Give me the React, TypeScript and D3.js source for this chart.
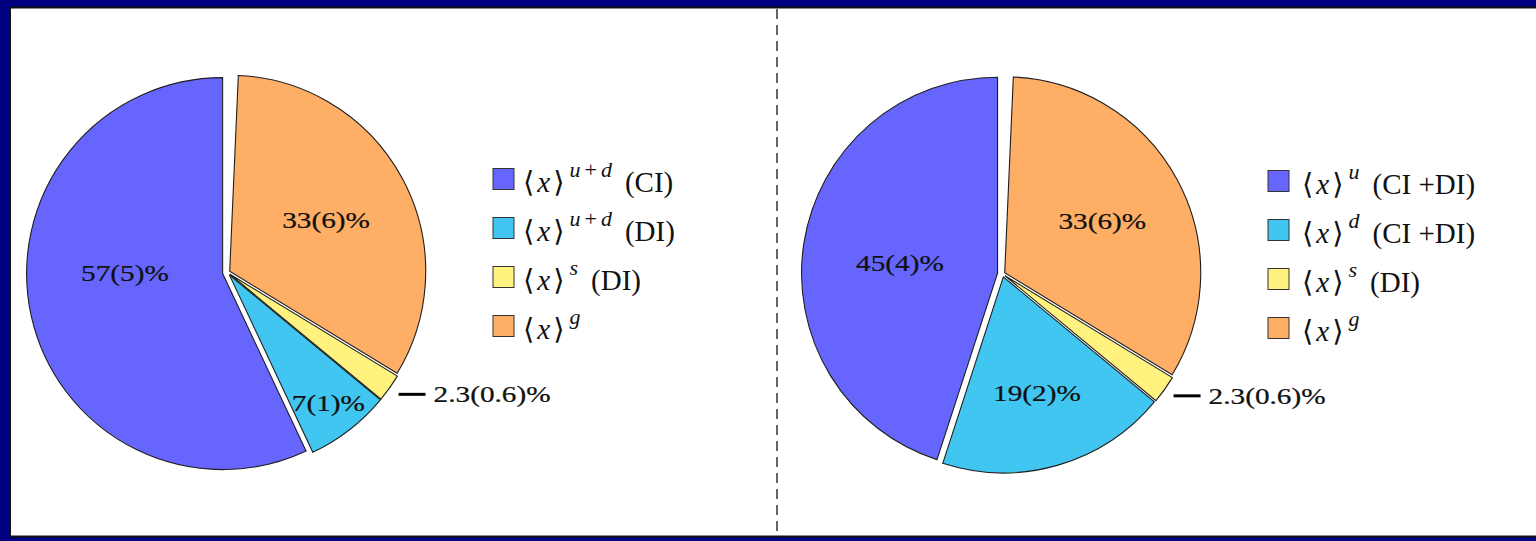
import React from "react";
import * as d3 from "d3";

// Momentum-fraction decomposition, two pies: left (CI / DI split), right (flavour split)
const legendColors = ["#6666FF", "#40C6F0", "#FFF27F", "#FFAE66"];

const leftSup = ["u+d", "u+d", "s", "g"];
const leftTail = ["(CI)", "(DI)", "(DI)", ""];
const leftValues = [57, 7, 2.3, 33];
const leftErrors = ["5", "1", "0.6", "6"];

const rightSup = ["u", "d", "s", "g"];
const rightTail = ["(CI +DI)", "(CI +DI)", "(DI)", ""];
const rightValues = [45, 19, 2.3, 33];
const rightErrors = ["4", "2", "0.6", "6"];

// clockwise from 12 o'clock: gluon, strange, second quark piece, first quark piece
const sliceOrder = [3, 2, 1, 0];

const W = 1536;
const H = 541;
const R = 196;
const FONT = "'Liberation Serif', 'DejaVu Serif', 'DejaVu Sans', serif";
const explode = [5, 3, 3, 2.5];

type LabelLayout = { rf: number; da: number } | null;

interface PieSpec {
  cx: number;
  cy: number;
  values: number[];
  errors: string[];
  sup: string[];
  tail: string[];
  labels: LabelLayout[];
  legendX: number;
  legendY: number;
  textGap: number;
}

const pies: PieSpec[] = [
  {
    cx: 227.5,
    cy: 272.5,
    values: leftValues,
    errors: leftErrors,
    sup: leftSup,
    tail: leftTail,
    labels: [{ rf: 0.523, da: 12.3 }, { rf: 0.84, da: 0 }, null, { rf: 0.57, da: 0 }],
    legendX: 493,
    legendY: 179,
    textGap: 30,
  },
  {
    cx: 1002.5,
    cy: 274,
    values: rightValues,
    errors: rightErrors,
    sup: rightSup,
    tail: rightTail,
    labels: [{ rf: 0.526, da: -3 }, { rf: 0.63, da: 0 }, null, { rf: 0.577, da: 0 }],
    legendX: 1268,
    legendY: 181,
    textGap: 34,
  },
];

const arc = d3.arc<d3.PieArcDatum<number>>().innerRadius(0).outerRadius(R);

function Pie({ spec }: { spec: PieSpec }) {
  const total = d3.sum(spec.values);
  const pie = d3
    .pie<number>()
    .sort(null)
    .value((i) => spec.values[i])
    .startAngle((2 * Math.PI * (100 - total)) / 100)
    .endAngle(2 * Math.PI);
  const arcs = pie(sliceOrder);
  const dir = (a: number) => [Math.sin(a), -Math.cos(a)];

  return (
    <g>
      {arcs.map((a) => {
        const i = a.data;
        const mid = (a.startAngle + a.endAngle) / 2;
        const [ux, uy] = dir(mid);
        const e = explode[i];
        return (
          <path
            key={i}
            d={arc(a) || ""}
            transform={`translate(${spec.cx + ux * e},${spec.cy + uy * e})`}
            fill={legendColors[i]}
            stroke="#1e1e1e"
            strokeWidth={1.1}
            strokeLinejoin="miter"
          />
        );
      })}
      {arcs.map((a) => {
        const i = a.data;
        const text = `${spec.values[i]}(${spec.errors[i]})%`;
        const mid = (a.startAngle + a.endAngle) / 2;
        const lay = spec.labels[i];
        if (lay) {
          const ang = mid + (lay.da * Math.PI) / 180;
          const [ux, uy] = dir(ang);
          const x = spec.cx + ux * lay.rf * R;
          const y = spec.cy + uy * lay.rf * R;
          return (
            <text
              key={"l" + i}
              transform={`translate(${x},${y}) scale(1.22,1)`}
              y={8}
              textAnchor="middle"
              fontFamily={FONT}
              fontSize={24}
              fill="#111"
              stroke="#111"
              strokeWidth={0.25}
            >
              {text}
            </text>
          );
        }
        const [ux, uy] = dir(mid);
        const x0 = spec.cx + ux * 210;
        const y0 = spec.cy + uy * 210;
        return (
          <g key={"l" + i}>
            <line x1={x0} x2={x0 + 27} y1={y0} y2={y0} stroke="#000" strokeWidth={3} />
            <text
              transform={`translate(${x0 + 35},${y0}) scale(1.22,1)`}
              y={8}
              fontFamily={FONT}
              fontSize={24}
              fill="#111"
              stroke="#111"
              strokeWidth={0.25}
            >
              {text}
            </text>
          </g>
        );
      })}
      {spec.sup.map((s, i) => {
        const cy = spec.legendY + i * 49;
        const parts = s.split("+");
        return (
          <g key={"k" + i}>
            <rect
              x={spec.legendX}
              y={cy - 10.5}
              width={21}
              height={21}
              fill={legendColors[i]}
              stroke="#333"
              strokeWidth={1}
            />
            <text x={spec.legendX + spec.textGap} y={cy + 13} fontFamily={FONT} fontSize={29} fill="#111">
              <tspan>⟨</tspan>
              <tspan fontStyle="italic" dx={3}>x</tspan>
              <tspan dx={3}>⟩</tspan>
              <tspan fontSize={22} dx={5} dy={-15} fontStyle="italic">{parts[0]}</tspan>
              {parts.length > 1 && (
                <>
                  <tspan fontSize={22} dx={4}>+</tspan>
                  <tspan fontSize={22} dx={4} fontStyle="italic">{parts[1]}</tspan>
                </>
              )}
              <tspan dx={spec.tail[i] ? 13 : 0} dy={15}>{spec.tail[i]}</tspan>
            </text>
          </g>
        );
      })}
    </g>
  );
}

export default function App() {
  return (
    <svg
      width={W}
      height={H}
      viewBox={`0 0 ${W} ${H}`}
      style={{ position: "absolute", left: 0, top: 0, display: "block" }}
    >
      <rect x={0} y={0} width={W} height={H} fill="#000080" />
      <rect x={10} y={7.5} width={W + 20} height={529} fill="#fff" stroke="#111" strokeWidth={2} />
      <line x1={777} x2={777} y1={9} y2={536} stroke="#333" strokeWidth={1.5} strokeDasharray="10,6" />
      {pies.map((p, k) => (
        <Pie key={k} spec={p} />
      ))}
    </svg>
  );
}
